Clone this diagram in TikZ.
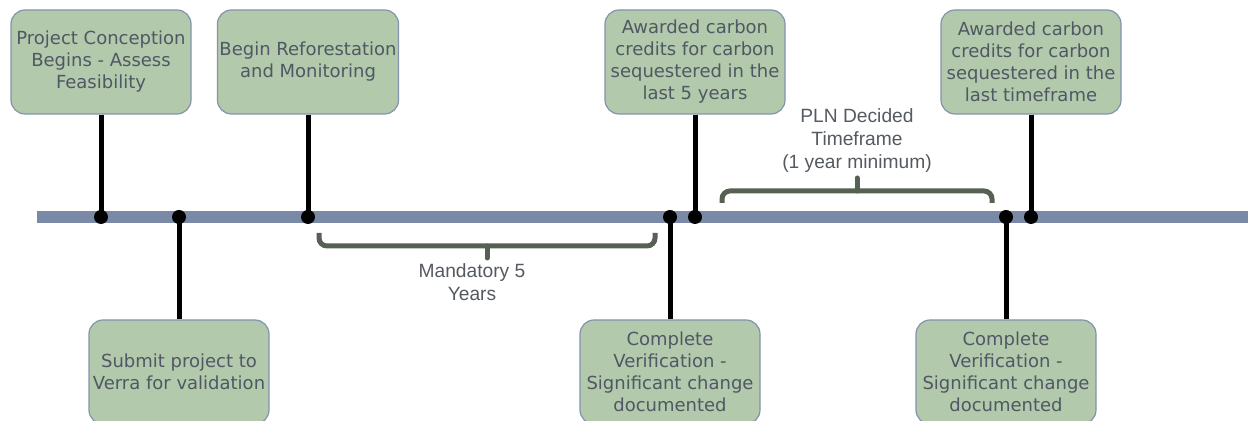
\documentclass[tikz,border=0pt]{standalone}
\usepackage{fontspec}
\setmainfont{DejaVu Sans}
\newfontfamily\labelfont{Liberation Sans}

\definecolor{boxfill}{HTML}{B2C9AB}
\definecolor{boxline}{HTML}{8393AD}
\definecolor{boxtext}{HTML}{4F5864}
\definecolor{axisblue}{HTML}{7A8AA6}
\definecolor{bracegray}{HTML}{566053}
\definecolor{lbltext}{HTML}{555A60}

\begin{document}
\begin{tikzpicture}[
    x=0.5pt, y=-0.5pt,
    event/.style={draw=boxline, fill=boxfill, rounded corners=7pt, line width=0.6pt,
        minimum width=90pt, minimum height=52pt, align=center, text=boxtext,
        font=\fontsize{9}{11}\selectfont, inner sep=1pt},
    dot/.style={circle, fill=black, minimum size=7pt, inner sep=0pt},
    stem/.style={line width=2.5pt, black},
    axis/.style={line width=6pt, axisblue},
    brc/.style={line width=2.5pt, bracegray, rounded corners=4pt},
    lbl/.style={align=center, text=lbltext, font=\labelfont\fontsize{9.6}{11.5}\selectfont}
]
\useasboundingbox (0,0) rectangle (1248,421);

% timeline
\coordinate (tl0) at (37,217);
\coordinate (tl1) at (1248,217);
\draw[axis] (tl0) -- (tl1);

% events above
\node[event] (conc) at (101,62) {Project Conception\\Begins - Assess\\Feasibility};
\node[event] (refo) at (308,62) {Begin Reforestation\\and Monitoring};
\node[event] (awd1) at (695,62) {Awarded carbon\\credits for carbon\\sequestered in the\\last 5 years};
\node[event] (awd2) at (1031,62) {Awarded carbon\\credits for carbon\\sequestered in the\\last timeframe};

% events below
\node[event] (subm) at (179,372) {Submit project to\\Verra for validation};
\node[event] (ver1) at (670,372) {Complete\\Verification -\\Significant change\\documented};
\node[event] (ver2) at (1006,372) {Complete\\Verification -\\Significant change\\documented};

% points on the timeline
\node[dot] (pconc) at (101,217) {};
\node[dot] (psubm) at (179,217) {};
\node[dot] (prefo) at (308,217) {};
\node[dot] (pver1) at (670,217) {};
\node[dot] (pawd1) at (695,217) {};
\node[dot] (pver2) at (1006,217) {};
\node[dot] (pawd2) at (1031,217) {};

\draw[stem] (conc.south) -- (pconc.center);
\draw[stem] (refo.south) -- (prefo.center);
\draw[stem] (awd1.south) -- (pawd1.center);
\draw[stem] (awd2.south) -- (pawd2.center);
\draw[stem] (subm.north) -- (psubm.center);
\draw[stem] (ver1.north) -- (pver1.center);
\draw[stem] (ver2.north) -- (pver2.center);

% braces
\coordinate (m0) at (319,233);
\coordinate (m1) at (655,233);
\coordinate (mmid) at (487,246);
\coordinate (mtip) at (487,258);
\draw[brc] (m0) |- (mmid) -| (m1);
\draw[brc, line cap=round] (mmid) -- (mtip);
\node[lbl] (mand) at (472,282) {Mandatory 5\\Years};

\coordinate (t0) at (722,203);
\coordinate (t1) at (992,203);
\coordinate (tmid) at (857,191);
\coordinate (ttip) at (857,178);
\draw[brc] (t0) |- (tmid) -| (t1);
\draw[brc, line cap=round] (tmid) -- (ttip);
\node[lbl] (pln) at (857,141) {PLN Decided\\Timeframe\\(1 year minimum)};
\end{tikzpicture}
\end{document}
